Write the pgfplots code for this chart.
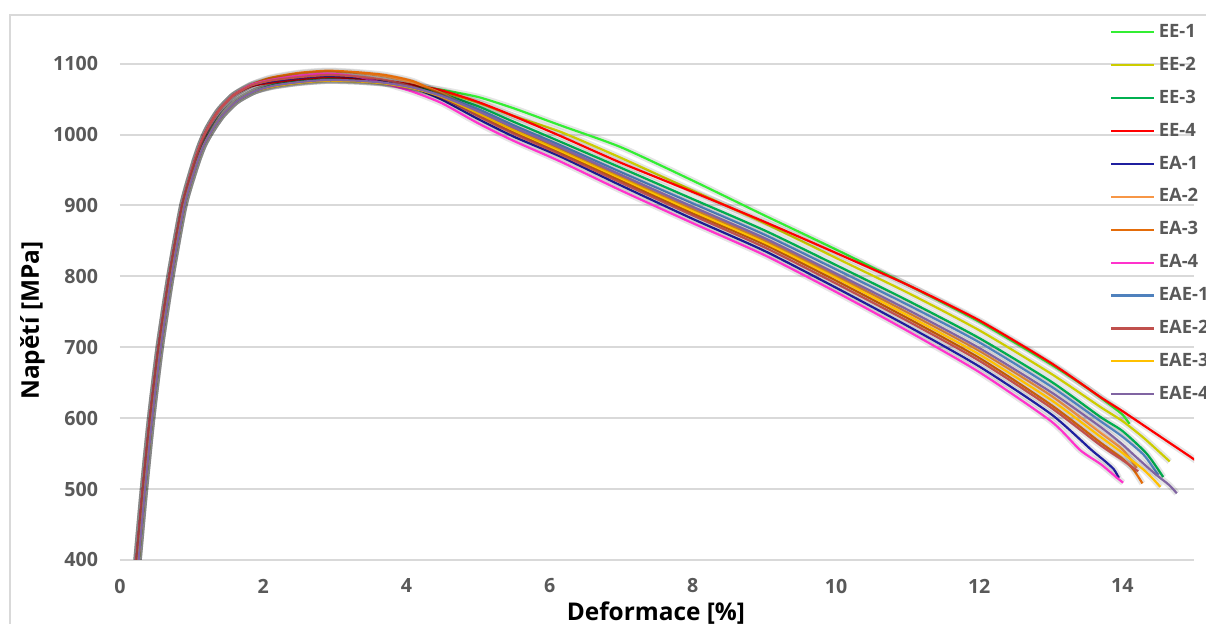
\documentclass[border=0pt]{standalone}
\usepackage{pgfplots}
\pgfplotsset{compat=1.18}
\usepackage{fontspec}
\setmainfont{Open Sans}

\definecolor{tickgray}{HTML}{595959}
\definecolor{gridgray}{HTML}{D9D9D9}
\definecolor{cEEa}{HTML}{33EE33}
\definecolor{cEEb}{HTML}{CCCC00}
\definecolor{cEEc}{HTML}{00B050}
\definecolor{cEEd}{HTML}{FF0000}
\definecolor{cEAa}{HTML}{1F1F9F}
\definecolor{cEAb}{HTML}{F79646}
\definecolor{cEAc}{HTML}{E46C0A}
\definecolor{cEAd}{HTML}{FF33CC}
\definecolor{cEAEa}{HTML}{4F81BD}
\definecolor{cEAEb}{HTML}{C0504D}
\definecolor{cEAEc}{HTML}{FFC000}
\definecolor{cEAEd}{HTML}{8064A2}

% halo like the spreadsheet's line shadow, switched off in the legend
\def\haloop{0.10}
\def\halow{3.2pt}
\tikzset{halo/.style={preaction={draw=black, draw opacity=\haloop, line width=\halow}}}

\begin{document}
\begin{tikzpicture}
\draw[gridgray, line width=1pt] (-55pt,-40pt) -- (-55pt,272.5pt) -- (560pt,272.5pt);
\begin{axis}[
    scale only axis,
    width=537pt, height=265.9pt,
    xmin=0, xmax=15, ymin=400, ymax=1150,
    xtick={0,2,...,14}, ytick={400,500,...,1100},
    axis line style={draw=none},
    major tick length=0pt,
    ymajorgrids,
    grid style={draw=gridgray, line width=1pt},
    tick label style={font=\bfseries\fontsize{9.8}{11}\selectfont, text=tickgray},
    /pgf/number format/assume math mode=true,
    /pgf/number format/1000 sep={},
    xticklabel style={anchor=center, inner sep=0pt, yshift=-13pt},
    yticklabel style={anchor=east, inner sep=0pt, xshift=-10.8pt},
    xlabel={Deformace [\%]},
    ylabel={Napětí [MPa]},
    every axis x label/.style={at={(axis description cs:0.499,-0.099)}, anchor=center, font=\bfseries\fontsize{12.2}{14}\selectfont},
    every axis y label/.style={at={(axis description cs:-0.0815,0.45)}, anchor=center, rotate=90, font=\bfseries\fontsize{12.2}{14}\selectfont},
    every axis plot/.append style={line width=1.1pt, line join=round, smooth, tension=0.4, /tikz/halo},
    legend style={at={(rel axis cs:0.9218,1.0232)}, anchor=north west, draw=none, fill=none,
        font=\bfseries\fontsize{9.2}{10}\selectfont, text=tickgray,
        inner sep=0pt, outer sep=0pt, row sep=0pt, column sep=2pt,
        nodes={inner sep=0pt, minimum height=16.45pt}},
    legend cell align=left,
    legend image code/.code={\def\haloop{0}\def\halow{0pt}\draw[#1] (0pt,0pt) -- (21.3pt,0pt);},
]
\addplot[color=cEEa] coordinates {
(0.26,400)(0.35,500)(0.45,600)(0.57,700)(0.72,800)(0.90,900)(1.07,958)(1.17,985)(1.28,1005)(1.43,1027)(1.63,1047)(1.88,1061)(2.15,1069)(2.5,1074)(2.9,1077)(3.3,1076)
(3.7,1074)(4.1,1069)(4.5,1063)(5,1053)(5.5,1037)(6.15,1013)(7,982)(8,935)(9,886)(10,838)(11,788)(12,736)(13,676)(13.5,643)(13.8,621)(14,605)(14.1,592)};
\addlegendentry{EE-1}
\addplot[color=cEEb] coordinates {
(0.26,400)(0.35,500)(0.45,600)(0.57,700)(0.72,800)(0.90,900)(1.07,958)(1.17,985)(1.28,1005)(1.43,1027)(1.63,1047)(1.88,1061)(2.15,1068)(2.5,1073)(2.9,1076)(3.3,1075)
(3.7,1072)(4.1,1067)(4.5,1060)(5,1045)(5.5,1026)(6.15,1004)(7,967)(8,921)(9,875)(10,826)(11,777)(12,724)(13,663)(13.69,616)(14,596)(14.3,572)(14.66,539)};
\addlegendentry{EE-2}
\addplot[color=cEEc] coordinates {
(0.26,400)(0.35,500)(0.45,600)(0.57,700)(0.72,800)(0.90,900)(1.07,958)(1.17,985)(1.28,1005)(1.43,1027)(1.63,1047)(1.88,1061)(2.15,1070)(2.5,1075)(2.9,1078)(3.3,1077)
(3.7,1073)(4.1,1067)(4.5,1057)(5,1040)(5.5,1018)(6.15,990)(7,953)(8,909)(9,865)(10,816)(11,766)(12,713)(13,652)(13.69,602)(14,582)(14.34,550)(14.57,517)};
\addlegendentry{EE-3}
\addplot[color=cEEd] coordinates {
(0.23,400)(0.32,500)(0.42,600)(0.54,700)(0.69,800)(0.87,900)(1.03,958)(1.13,988)(1.23,1010)(1.38,1034)(1.58,1055)(1.83,1068)(2.1,1073)(2.5,1078)(2.9,1081)(3.3,1079)
(3.7,1076)(4.1,1070)(4.5,1062)(5,1046)(5.5,1026)(6.15,998)(7,960)(8,919)(9,877)(10,833)(11,788)(12,738)(13,678)(13.69,630)(14,610)(14.5,576)(15,542)(15.3,520)};
\addlegendentry{EE-4}
\addplot[color=cEAa] coordinates {
(0.23,400)(0.32,500)(0.42,600)(0.54,700)(0.69,800)(0.87,900)(1.03,958)(1.13,988)(1.23,1010)(1.38,1034)(1.58,1055)(1.83,1069)(2.1,1075)(2.5,1080)(2.9,1083)(3.3,1081)
(3.7,1076)(4.1,1066)(4.5,1049)(5,1022)(5.5,997)(6.15,969)(7,928)(8,881)(9,836)(10,784)(11,730)(12,673)(13,606)(13.57,555)(13.75,540)(13.88,528)(13.95,516)};
\addlegendentry{EA-1}
\addplot[color=cEAb] coordinates {
(0.23,400)(0.32,500)(0.42,600)(0.54,700)(0.69,800)(0.87,900)(1.03,958)(1.13,988)(1.23,1010)(1.38,1034)(1.58,1055)(1.83,1070)(2.1,1079)(2.5,1086)(2.9,1089)(3.3,1087)
(3.7,1082)(4.1,1073)(4.5,1058)(5,1033)(5.5,1009)(6.15,980)(7,940)(8,895)(9,851)(10,801)(11,749)(12,695)(13,632)(13.69,580)(14,556)(14.2,530)};
\addlegendentry{EA-2}
\addplot[color=cEAc] coordinates {
(0.23,400)(0.32,500)(0.42,600)(0.54,700)(0.69,800)(0.87,900)(1.03,958)(1.13,988)(1.23,1010)(1.38,1034)(1.58,1055)(1.83,1070)(2.1,1080)(2.5,1087)(2.9,1090)(3.3,1088)
(3.7,1084)(4.1,1075)(4.5,1056)(5,1028)(5.5,1003)(6.15,975)(7,935)(8,889)(9,845)(10,794)(11,741)(12,685)(13,619)(13.69,566)(14,543)(14.15,528)(14.28,508)};
\addlegendentry{EA-3}
\addplot[color=cEAd] coordinates {
(0.23,400)(0.32,500)(0.42,600)(0.54,700)(0.69,800)(0.87,900)(1.03,958)(1.13,988)(1.23,1010)(1.38,1034)(1.58,1055)(1.83,1070)(2.1,1077)(2.5,1083)(2.9,1086)(3.3,1082)
(3.7,1072)(4.1,1060)(4.5,1044)(5,1016)(5.5,991)(6.15,962)(7,921)(8,875)(9,830)(10,778)(11,723)(12,665)(13,596)(13.41,555)(13.7,535)(13.9,518)(14.01,509)};
\addlegendentry{EA-4}
\addplot[color=cEAEa] coordinates {
(0.26,400)(0.35,500)(0.45,600)(0.57,700)(0.72,800)(0.90,900)(1.07,958)(1.17,985)(1.28,1005)(1.43,1027)(1.63,1047)(1.88,1061)(2.15,1068)(2.5,1073)(2.9,1076)(3.3,1075)
(3.7,1072)(4.1,1066)(4.5,1055)(5,1036)(5.5,1013)(6.15,985)(7,947)(8,903)(9,859)(10,810)(11,760)(12,707)(13,645)(13.69,596)(14,574)(14.3,548)(14.5,520)};
\addlegendentry{EAE-1}
\addplot[color=cEAEb] coordinates {
(0.23,400)(0.32,500)(0.42,600)(0.54,700)(0.69,800)(0.87,900)(1.03,958)(1.13,988)(1.23,1010)(1.38,1034)(1.58,1055)(1.83,1069)(2.1,1076)(2.5,1081)(2.9,1084)(3.3,1082)
(3.7,1077)(4.1,1067)(4.5,1052)(5,1026)(5.5,1001)(6.15,972)(7,932)(8,886)(9,841)(10,790)(11,737)(12,681)(13,615)(13.69,562)(14,541)(14.22,525)};
\addlegendentry{EAE-2}
\addplot[color=cEAEc] coordinates {
(0.26,400)(0.35,500)(0.45,600)(0.57,700)(0.72,800)(0.90,900)(1.07,958)(1.17,985)(1.28,1005)(1.43,1027)(1.63,1047)(1.88,1061)(2.15,1068)(2.5,1073)(2.9,1076)(3.3,1075)
(3.7,1072)(4.1,1065)(4.5,1053)(5,1030)(5.5,1006)(6.15,977)(7,938)(8,892)(9,848)(10,798)(11,745)(12,690)(13,626)(13.69,574)(14,551)(14.3,527)(14.45,512)(14.53,503)};
\addlegendentry{EAE-3}
\addplot[color=cEAEd] coordinates {
(0.26,400)(0.35,500)(0.45,600)(0.57,700)(0.72,800)(0.90,900)(1.07,958)(1.17,985)(1.28,1005)(1.43,1027)(1.63,1047)(1.88,1061)(2.15,1069)(2.5,1074)(2.9,1077)(3.3,1076)
(3.7,1073)(4.1,1066)(4.5,1054)(5,1033)(5.5,1010)(6.15,982)(7,943)(8,898)(9,854)(10,804)(11,753)(12,699)(13,637)(13.69,588)(14,563)(14.15,549)(14.45,522)(14.65,506)(14.76,494)};
\addlegendentry{EAE-4}
\end{axis}
\pgfresetboundingbox
\useasboundingbox (-60pt,-32pt) rectangle (543pt,280pt);
\end{tikzpicture}
\end{document}
